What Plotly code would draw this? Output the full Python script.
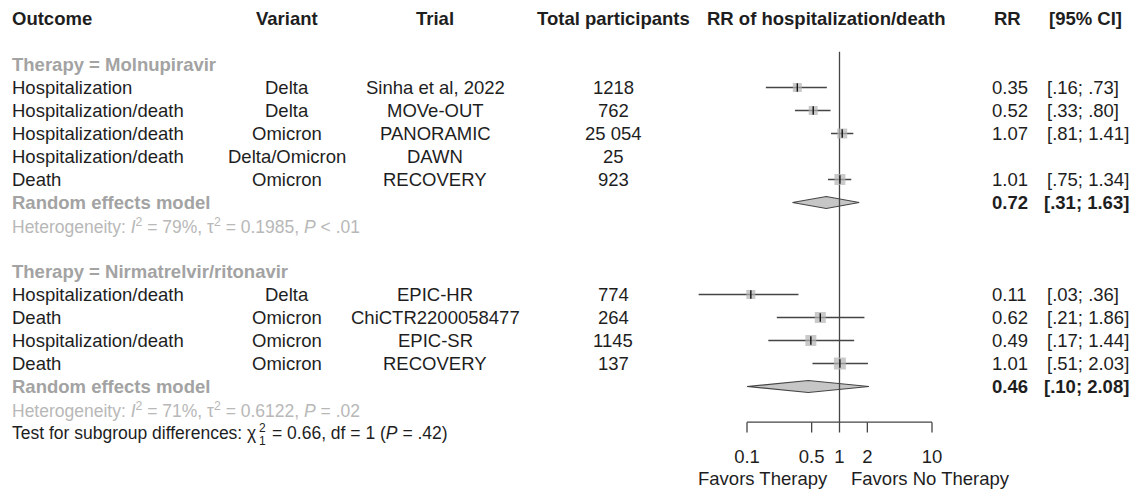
import math
import plotly.graph_objects as go

# ---------------- data ----------------
headers = ["Outcome", "Variant", "Trial", "Total participants",
           "RR of hospitalization/death", "RR", "[95% CI]"]

group_labels = ["Therapy = Molnupiravir", "Therapy = Nirmatrelvir/ritonavir"]

outcomes_m = ["Hospitalization", "Hospitalization/death", "Hospitalization/death",
              "Hospitalization/death", "Death"]
variants_m = ["Delta", "Delta", "Omicron", "Delta/Omicron", "Omicron"]
trials_m = ["Sinha et al, 2022", "MOVe-OUT", "PANORAMIC", "DAWN", "RECOVERY"]
n_m = ["1218", "762", "25 054", "25", "923"]
rr_m = [0.35, 0.52, 1.07, None, 1.01]
lo_m = [0.16, 0.33, 0.81, None, 0.75]
hi_m = [0.73, 0.80, 1.41, None, 1.34]
re_m = [0.72, 0.31, 1.63]
het_m = "Heterogeneity: <i>I</i><sup>2</sup> = 79%, τ<sup>2</sup> = 0.1985, <i>P</i> &lt; .01"

outcomes_n = ["Hospitalization/death", "Death", "Hospitalization/death", "Death"]
variants_n = ["Delta", "Omicron", "Omicron", "Omicron"]
trials_n = ["EPIC-HR", "ChiCTR2200058477", "EPIC-SR", "RECOVERY"]
n_n = ["774", "264", "1145", "137"]
rr_n = [0.11, 0.62, 0.49, 1.01]
lo_n = [0.03, 0.21, 0.17, 0.51]
hi_n = [0.36, 1.86, 1.44, 2.03]
re_n = [0.46, 0.10, 2.08]
het_n = "Heterogeneity: <i>I</i><sup>2</sup> = 71%, τ<sup>2</sup> = 0.6122, <i>P</i> = .02"

subgroup_test_a = "Test for subgroup differences: χ"
subgroup_test_sup = "2"
subgroup_test_sub = "1"
subgroup_test_b = "= 0.66, df = 1 (<i>P</i> = .42)"

tick_vals = [0.1, 0.5, 1, 2, 10]
tick_text = ["0.1", "0.5", "1", "2", "10"]
favors = ["Favors Therapy", "Favors No Therapy"]

# ---------------- styles / layout ----------------
W, H = 1136, 492
FONT = "Liberation Sans, Arial, sans-serif"
FS = 18.5
FS_SMALL = 17.5
FS_SCRIPT = 12
BLACK = "#1e1e1e"
GRAY = "#a3a3a3"
LGRAY = "#b8b8b8"
LINE = "#454545"
SQ = "#b3b3b3"

ROW0_PX, ROW_PX = 18.5, 23        # row 0 centre / row height in pixels
X1_PX, DEC_PX = 839.5, 92.5       # pixel of RR=1, pixels per decade

sq_size_m = [9, 9, 10, None, 11]
sq_size_n = [9, 11, 11, 12]

col_outcome = 10
col_variant = 287
col_trial = 435
col_n = 613
col_forest = 826
col_rr = 990
col_ci = 1045
col_chi_script = 257
col_test_b = 270

rows_m = [3, 4, 5, 6, 7]
rows_n = [12, 13, 14, 15]
row_group = [2, 11]
row_re = [8, 16]
row_het = [9, 17]
row_test = 18
row_axis = 17.55
tick_len = 0.45
row_ticklab = 19.12
row_favors = 20.0
row_vline_top = 1.45
diamond_h = 0.26


def fmt(v):
    s = f"{v:.2f}"
    return s[1:] if s.startswith("0.") else s


def ci_text(lo, hi):
    return f"[{fmt(lo)}; {fmt(hi)}]"


fig = go.Figure()
ann = []


def txt(xpx, row, text, anchor="left", color=BLACK, bold=False, size=FS, yshift=0):
    if bold:
        text = f"<b>{text}</b>"
    ann.append(dict(x=xpx / W, xref="paper", y=row, yref="y", text=text,
                    xanchor=anchor, yanchor="middle", showarrow=False, yshift=yshift,
                    font=dict(family=FONT, size=size, color=color)))


# headers
txt(col_outcome, 0, headers[0], "left", bold=True)
txt(col_variant, 0, headers[1], "center", bold=True)
txt(col_trial, 0, headers[2], "center", bold=True)
txt(col_n, 0, headers[3], "center", bold=True)
txt(col_forest, 0, headers[4], "center", bold=True)
txt(col_rr + 2, 0, headers[5], "left", bold=True)
txt(1124, 0, headers[6], "right", bold=True)

groups = [
    (outcomes_m, variants_m, trials_m, n_m, rr_m, lo_m, hi_m, re_m, het_m, rows_m, sq_size_m),
    (outcomes_n, variants_n, trials_n, n_n, rr_n, lo_n, hi_n, re_n, het_n, rows_n, sq_size_n),
]

ci_x, ci_y = [], []
sq_x, sq_y, sq_s = [], [], []

for gi, (outc, var, tri, nn, rr, lo, hi, re, het, rows, sqs) in enumerate(groups):
    txt(col_outcome, row_group[gi], group_labels[gi], "left", color=GRAY, bold=True)
    for i, r in enumerate(rows):
        txt(col_outcome, r, outc[i], "left")
        txt(col_variant, r, var[i], "center")
        txt(col_trial, r, tri[i], "center")
        txt(col_n, r, nn[i], "center")
        if rr[i] is not None:
            txt(col_rr, r, f"{rr[i]:.2f}", "left")
            txt(col_ci, r, ci_text(lo[i], hi[i]), "left")
            ci_x += [lo[i], hi[i], None]
            ci_y += [r, r, None]
            sq_x.append(rr[i]); sq_y.append(r); sq_s.append(sqs[i])
    # random effects
    rre = row_re[gi]
    txt(col_outcome, rre, "Random effects model", "left", color=GRAY, bold=True)
    txt(col_rr, rre, f"{re[0]:.2f}", "left", bold=True)
    txt(col_ci - 3, rre, ci_text(re[1], re[2]), "left", bold=True)
    fig.add_trace(go.Scatter(
        x=[re[1], re[0], re[2], re[0], re[1]],
        y=[rre, rre - diamond_h, rre, rre + diamond_h, rre],
        mode="lines", fill="toself", fillcolor="#c6c6c6",
        line=dict(color=LINE, width=1.2), hoverinfo="skip"))
    txt(col_outcome, row_het[gi], het, "left", color=LGRAY, size=FS_SMALL)

# test for subgroup differences (chi with stacked super/subscript)
txt(col_outcome, row_test, subgroup_test_a, "left", size=FS_SMALL)
txt(col_chi_script, row_test, subgroup_test_sup, "left", size=FS_SCRIPT, yshift=5)
txt(col_chi_script, row_test, subgroup_test_sub, "left", size=FS_SCRIPT, yshift=-8)
txt(col_test_b, row_test, subgroup_test_b, "left", size=FS_SMALL)

# vertical line of no effect
fig.add_trace(go.Scatter(x=[1, 1], y=[row_vline_top, row_axis], mode="lines",
                         line=dict(color=LINE, width=1.3), hoverinfo="skip"))

# CI lines
fig.add_trace(go.Scatter(x=ci_x, y=ci_y, mode="lines",
                         line=dict(color=LINE, width=1.5), hoverinfo="skip"))
# squares
fig.add_trace(go.Scatter(x=sq_x, y=sq_y, mode="markers",
                         marker=dict(symbol="square", size=sq_s, color=SQ,
                                     line=dict(width=0)), hoverinfo="skip"))
# small tick at point estimate
fig.add_trace(go.Scatter(x=sq_x, y=sq_y, mode="markers",
                         marker=dict(symbol="line-ns", size=6,
                                     line=dict(color="#111111", width=1.4)),
                         hoverinfo="skip"))

# custom bracket axis
ax_x, ax_y = [tick_vals[0], tick_vals[-1], None], [row_axis, row_axis, None]
for t in tick_vals:
    ax_x += [t, t, None]
    ax_y += [row_axis, row_axis + tick_len, None]
fig.add_trace(go.Scatter(x=ax_x, y=ax_y, mode="lines",
                         line=dict(color=LINE, width=1.3), hoverinfo="skip"))
fig.add_trace(go.Scatter(x=tick_vals, y=[row_ticklab] * len(tick_vals), mode="text",
                         text=tick_text, textposition="middle center",
                         textfont=dict(family=FONT, size=FS, color=BLACK),
                         hoverinfo="skip"))
ann.append(dict(x=0, xref="x", y=row_favors, yref="y", text=favors[0],
                xanchor="right", yanchor="middle", xshift=-10, showarrow=False,
                font=dict(family=FONT, size=FS, color=BLACK)))
ann.append(dict(x=0, xref="x", y=row_favors, yref="y", text=favors[1],
                xanchor="left", yanchor="middle", xshift=9, showarrow=False,
                font=dict(family=FONT, size=FS, color=BLACK)))

# axis ranges: map pixels to data
x_lo = (0 - X1_PX) / DEC_PX
x_hi = (W - X1_PX) / DEC_PX
y_top = (0 - ROW0_PX) / ROW_PX
y_bot = (H - ROW0_PX) / ROW_PX

fig.update_layout(
    width=W, height=H, margin=dict(l=0, r=0, t=0, b=0),
    paper_bgcolor="white", plot_bgcolor="white", showlegend=False,
    xaxis=dict(type="log", range=[x_lo, x_hi], visible=False, domain=[0, 1]),
    yaxis=dict(range=[y_bot, y_top], visible=False, domain=[0, 1]),
    annotations=ann,
)

fig.write_html("out.html", config={"displayModeBar": False},
               post_script="document.body.style.margin='0px';document.body.style.overflow='hidden';")
